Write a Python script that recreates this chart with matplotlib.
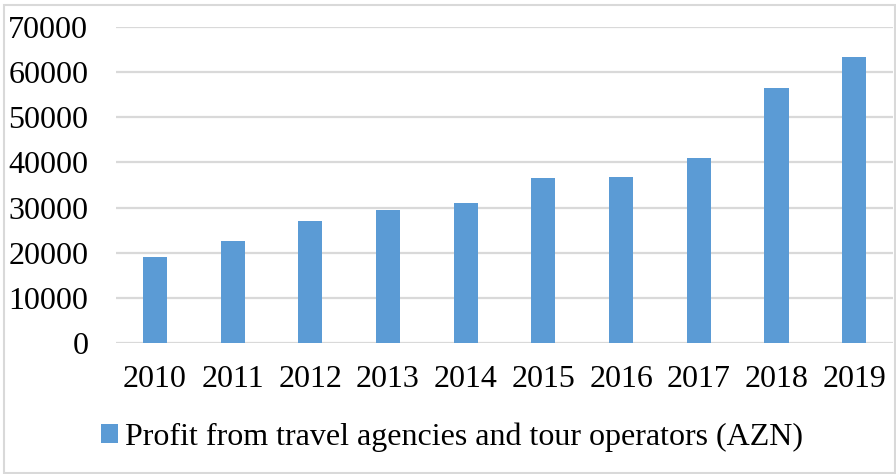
import numpy as np
import matplotlib
matplotlib.use('Agg')
import matplotlib.pyplot as plt
from matplotlib.patches import Rectangle

years = ['2010', '2011', '2012', '2013', '2014', '2015', '2016', '2017', '2018', '2019']
profit = [19000, 22600, 27000, 29500, 31000, 36500, 36700, 41000, 56400, 63400]
series_label = 'Profit from travel agencies and tour operators (AZN)'

bar_color = '#5b9bd5'
grid_color = '#d9d9d9'

plt.rcParams['font.family'] = ['Liberation Serif', 'DejaVu Serif']

fig = plt.figure(figsize=(8.96, 4.74), dpi=100)
ax = fig.add_axes([0.1295, 0.2764, 0.8672, 0.6666])

x = np.arange(len(years))
bars = ax.bar(x, profit, width=0.31, color=bar_color, zorder=3, label=series_label)

ax.set_xlim(-0.5, len(years) - 0.5)
ax.set_ylim(0, 70000)
ax.set_yticks(np.arange(0, 70001, 10000))
ax.set_xticks(x)
ax.set_xticklabels(years)
ax.yaxis.grid(True, color=grid_color, lw=1.6, zorder=0)
ax.set_axisbelow(True)
for s in ax.spines.values():
    s.set_visible(False)
ax.tick_params(axis='both', length=0, labelsize=23)
ax.tick_params(axis='y', pad=20)
ax.tick_params(axis='x', pad=16)

fig.legend(handles=[bars], labels=[series_label], loc='center',
           bbox_to_anchor=(0.504, 0.078), frameon=False, fontsize=23,
           handlelength=0.55, handleheight=0.55, handletextpad=0.2)

# outer chart border
fig.patches.append(Rectangle((4 / 896, 1 / 474), 891 / 896, 468 / 474,
                             transform=fig.transFigure, fill=False,
                             edgecolor=grid_color, lw=1.5))

fig.savefig('out.png', dpi=100)
plt.close(fig)
